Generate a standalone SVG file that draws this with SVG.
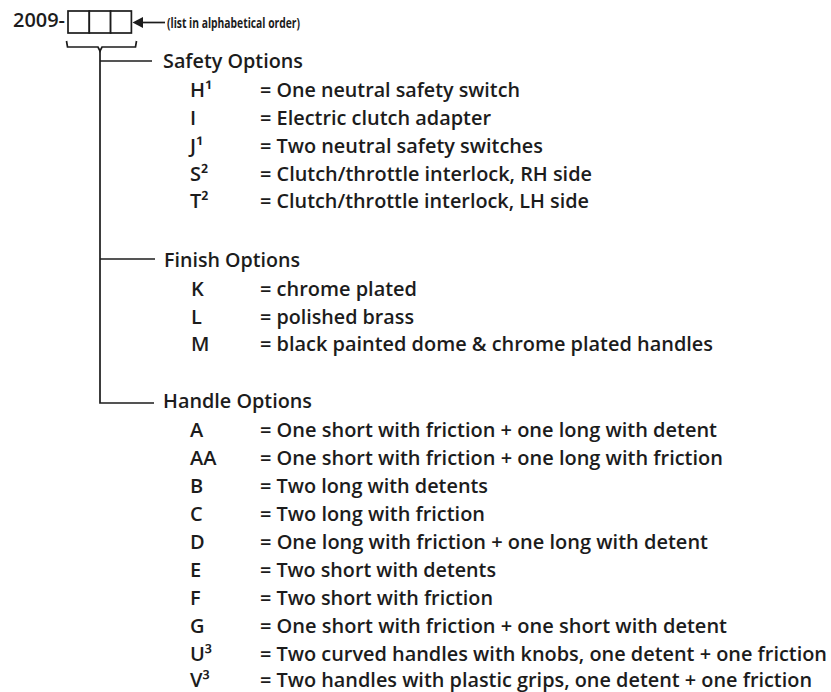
<svg xmlns="http://www.w3.org/2000/svg" width="831" height="692" viewBox="0 0 831 692">
<style>
  text { font-family: "Open Sans", "Noto Sans", "Liberation Sans", sans-serif; fill: #1c1c1c; font-weight: 600; }
  .t { font-size: 20px; }
  .head { font-size: 20px; }
  .note { font-size: 14px; font-weight: bold; }
  .ln { stroke: #1c1c1c; stroke-width: 1.7; fill: none; }
  .box { stroke: #1c1c1c; stroke-width: 1.7; fill: #fff; }
</style>
<rect width="831" height="692" fill="#fff"/>

<g id="code">
  <text class="t" x="13" y="27" textLength="52" lengthAdjust="spacingAndGlyphs">2009-</text>
  <rect class="box" x="68" y="11" width="21.3" height="22"/>
  <rect class="box" x="89.3" y="11" width="21.3" height="22"/>
  <rect class="box" x="110.6" y="11" width="20.8" height="22"/>
  <text class="note" x="167" y="28" textLength="133" lengthAdjust="spacingAndGlyphs">(list in alphabetical order)</text>
</g>

<g id="connectors">
  <line class="ln" x1="165" y1="22.5" x2="140" y2="22.5" stroke-width="2.4"/>
  <polygon points="132.5,22.5 143,17 143,28" fill="#1c1c1c"/>
  <path class="ln" d="M66.5,41 L67.5,47 L98,47 L100,51 L102,47 L135.5,47 L136.5,41"/>
  <path class="ln" d="M100,51 L100,403 L154,403"/>
  <line class="ln" x1="100" y1="61" x2="152" y2="61"/>
  <line class="ln" x1="100" y1="259" x2="155" y2="259"/>
</g>

<g id="safety">
  <text class="head" x="163" y="68" textLength="140" lengthAdjust="spacingAndGlyphs">Safety Options</text>
  <text class="t" x="190" y="97">H¹</text>
  <text class="t" x="260" y="97" textLength="260" lengthAdjust="spacingAndGlyphs">= One neutral safety switch</text>
  <text class="t" x="190" y="125">I</text>
  <text class="t" x="260" y="125" textLength="231" lengthAdjust="spacingAndGlyphs">= Electric clutch adapter</text>
  <text class="t" x="190" y="153">J¹</text>
  <text class="t" x="260" y="153" textLength="283" lengthAdjust="spacingAndGlyphs">= Two neutral safety switches</text>
  <text class="t" x="190" y="180.5">S²</text>
  <text class="t" x="260" y="180.5" textLength="332" lengthAdjust="spacingAndGlyphs">= Clutch/throttle interlock, RH side</text>
  <text class="t" x="190" y="208">T²</text>
  <text class="t" x="260" y="208" textLength="329" lengthAdjust="spacingAndGlyphs">= Clutch/throttle interlock, LH side</text>
</g>

<g id="finish">
  <text class="head" x="164" y="267" textLength="136" lengthAdjust="spacingAndGlyphs">Finish Options</text>
  <text class="t" x="191" y="296">K</text>
  <text class="t" x="260" y="296" textLength="157" lengthAdjust="spacingAndGlyphs">= chrome plated</text>
  <text class="t" x="191" y="324">L</text>
  <text class="t" x="260" y="324" textLength="154" lengthAdjust="spacingAndGlyphs">= polished brass</text>
  <text class="t" x="191" y="351">M</text>
  <text class="t" x="260" y="351" textLength="453" lengthAdjust="spacingAndGlyphs">= black painted dome &amp; chrome plated handles</text>
</g>

<g id="handle">
  <text class="head" x="163" y="408" textLength="149" lengthAdjust="spacingAndGlyphs">Handle Options</text>
  <text class="t" x="190" y="437">A</text>
  <text class="t" x="260" y="437" textLength="457" lengthAdjust="spacingAndGlyphs">= One short with friction + one long with detent</text>
  <text class="t" x="190" y="465">AA</text>
  <text class="t" x="260" y="465" textLength="463" lengthAdjust="spacingAndGlyphs">= One short with friction + one long with friction</text>
  <text class="t" x="190" y="493">B</text>
  <text class="t" x="260" y="493" textLength="228" lengthAdjust="spacingAndGlyphs">= Two long with detents</text>
  <text class="t" x="190" y="521">C</text>
  <text class="t" x="260" y="521" textLength="225" lengthAdjust="spacingAndGlyphs">= Two long with friction</text>
  <text class="t" x="190" y="549">D</text>
  <text class="t" x="260" y="549" textLength="448" lengthAdjust="spacingAndGlyphs">= One long with friction + one long with detent</text>
  <text class="t" x="190" y="577">E</text>
  <text class="t" x="260" y="577" textLength="236" lengthAdjust="spacingAndGlyphs">= Two short with detents</text>
  <text class="t" x="190" y="605">F</text>
  <text class="t" x="260" y="605" textLength="233" lengthAdjust="spacingAndGlyphs">= Two short with friction</text>
  <text class="t" x="190" y="633">G</text>
  <text class="t" x="260" y="633" textLength="467" lengthAdjust="spacingAndGlyphs">= One short with friction + one short with detent</text>
  <text class="t" x="190" y="661">U³</text>
  <text class="t" x="260" y="661" textLength="567" lengthAdjust="spacingAndGlyphs">= Two curved handles with knobs, one detent + one friction</text>
  <text class="t" x="190" y="687">V³</text>
  <text class="t" x="260" y="687" textLength="552" lengthAdjust="spacingAndGlyphs">= Two handles with plastic grips, one detent + one friction</text>
</g>
</svg>
